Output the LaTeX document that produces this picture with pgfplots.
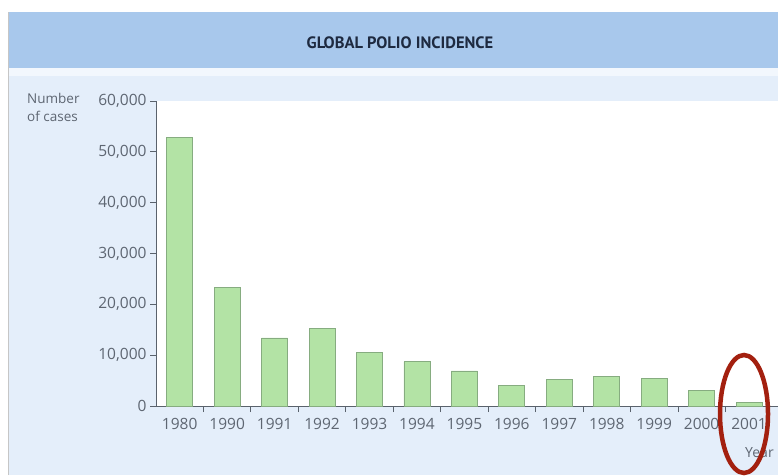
\documentclass[border=0pt]{standalone}
\usepackage{pgfplots}
\pgfplotsset{compat=1.18}
\usepackage{fontspec}
\setmainfont{Open Sans}
\newfontfamily\titlefont{PT Sans}
\definecolor{hdr}{HTML}{A8C8EC}
\definecolor{panel}{HTML}{E4EEFA}
\definecolor{strip}{HTML}{F2F7FD}
\definecolor{barfill}{HTML}{B3E3A5}
\definecolor{baredge}{HTML}{86AC80}
\definecolor{axcol}{HTML}{5A626C}
\definecolor{txt}{HTML}{5E6672}
\definecolor{ttl}{HTML}{1E2A40}
\definecolor{ring}{HTML}{A3200F}
\begin{document}
\begin{tikzpicture}[x=1pt,y=1pt]
\clip (0,0) rectangle (778,475);
\fill[white] (0,0) rectangle (778,475);
\fill[panel] (8,0) rectangle (778,399);
\fill[strip] (8,399) rectangle (778,407);
\fill[hdr] (8,407) rectangle (778,463);
\draw[gray!45] (8,0) -- (8,463);
\node[font=\titlefont\bfseries\fontsize{16.5}{18}\selectfont, text=ttl] at (400,432) {GLOBAL POLIO INCIDENCE};
\node[align=left, anchor=north west, inner sep=0pt, font=\fontsize{13.5}{18}\selectfont, text=txt] at (27,382) {Number\\of cases};
\begin{axis}[
  at={(156pt,69pt)}, anchor=south west, scale only axis,
  width=622pt, height=305pt,
  xmin=-0.5, xmax=12.61, ymin=0, ymax=60000,
  axis x line*=bottom, axis y line*=left,
  axis line style={axcol, line width=0.9pt, -},
  axis background/.style={fill=white},
  ybar, bar width=26pt,
  ytick={0,10000,20000,30000,40000,50000,60000},
  scaled y ticks=false,
  xtick={0,1,2,3,4,5,6,7,8,9,10,11,12},
  xticklabels={1980,1990,1991,1992,1993,1994,1995,1996,1997,1998,1999,2000,2001},
  major x tick style={draw=none},
  minor xtick={0.5,1.5,2.5,3.5,4.5,5.5,6.5,7.5,8.5,9.5,10.5,11.5},
  minor tick length=6pt, major tick length=6pt,
  tick align=outside,
  tick style={axcol, line width=0.8pt},
  tick label style={font=\fontsize{15.5}{17}\selectfont, text=txt},
  xticklabel style={yshift=-3pt},
  /pgf/number format/assume math mode=true,
  /pgf/number format/1000 sep={,},
  clip=false,
]
\addplot[fill=barfill, draw=baredge, line width=0.7pt] coordinates {
  (0,52900) (1,23300) (2,13400) (3,15300) (4,10600) (5,8700) (6,6900)
  (7,4000) (8,5250) (9,5900) (10,5450) (11,3100) (12,700)
};
\end{axis}
\node[anchor=west, inner sep=0pt, font=\fontsize{14}{16}\selectfont, text=txt] at (745,22) {Year};
\draw[ring, line width=4.5pt] (744,61) ellipse [x radius=24, y radius=59];
\end{tikzpicture}
\end{document}
